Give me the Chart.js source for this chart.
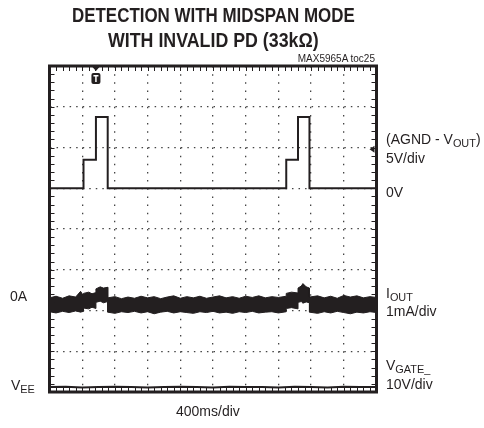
<!DOCTYPE html>
<html>
<head>
<meta charset="utf-8">
<script src="https://cdn.jsdelivr.net/npm/chart.js@4.4.0/dist/chart.umd.min.js"></script>
<style>
  html, body { margin: 0; padding: 0; background: #fff; }
  #wrap { position: relative; width: 484px; height: 428px; overflow: hidden; }
  #chart { position: absolute; left: 0; top: 0; }
  .t { position: absolute; white-space: nowrap; color: #231f20;
       font-family: "Liberation Sans Narrow", "Liberation Sans", Arial, sans-serif;
       font-size: 14px; line-height: 14px; }
  .ttl { font-weight: bold; font-size: 21px; line-height: 21px; transform-origin: left top; }
  .t sub { font-size: 78%; vertical-align: -0.25em; line-height: 0; }
</style>
</head>
<body>
<div id="wrap">
  <canvas id="chart" width="484" height="428"></canvas>
  <div class="t ttl" data-cx="213.5" data-w="283" style="top:4px">DETECTION WITH MIDSPAN MODE</div>
  <div class="t ttl" data-cx="213.5" data-w="211" style="top:29px">WITH INVALID PD (33kΩ)</div>
  <div class="t" style="top:54px; right:109px; font-size:10px; line-height:10px">MAX5965A toc25</div>
  <div class="t" style="left:386px; top:132px">(AGND - V<sub>OUT</sub>)</div>
  <div class="t" style="left:386px; top:151px">5V/div</div>
  <div class="t" style="left:386px; top:185px">0V</div>
  <div class="t" style="left:386px; top:286px">I<sub>OUT</sub></div>
  <div class="t" style="left:386px; top:304px">1mA/div</div>
  <div class="t" style="left:386px; top:358px">V<sub>GATE_</sub></div>
  <div class="t" style="left:386px; top:377px">10V/div</div>
  <div class="t" style="left:10px; top:289px">0A</div>
  <div class="t" style="left:11px; top:378px">V<sub>EE</sub></div>
  <div class="t" style="left:176px; top:404px">400ms/div</div>
</div>
<script>
// scope screen: 10 x 8 divisions, values in divisions from the bottom
const xDivs = 10;
const yDivs = 8;
const trigX = 1.42;
const trigLevel = 5.96;

// (AGND - VOUT), 5V/div
const voltX = [0, 1.04, 1.04, 1.42, 1.42, 1.78, 1.78, 7.24, 7.24, 7.6, 7.6, 7.95, 7.95, 10];
const voltY = [5, 5, 5.7, 5.7, 6.75, 6.75, 5, 5, 5.7, 5.7, 6.75, 6.75, 5, 5];

// IOUT noise band, upper and lower edge
const curX = [0, 0.2, 0.4, 0.6, 0.8, 0.95,
  1.04, 1.04, 1.2, 1.3, 1.42, 1.42, 1.55, 1.65, 1.78, 1.78,
  2.0, 2.2, 2.4, 2.6, 2.8, 3.0, 3.2, 3.4, 3.6, 3.8, 4.0, 4.2, 4.4,
  4.6, 4.8, 5.0, 5.2, 5.4, 5.6, 5.8, 6.0, 6.2, 6.4, 6.6, 6.8, 7.0,
  7.24, 7.24, 7.4, 7.6, 7.6, 7.7, 7.75, 7.85, 7.95, 7.95,
  8.2, 8.4, 8.6, 8.8, 9.0, 9.2, 9.4, 9.6, 9.8, 10];
const curHi = [2.31, 2.35, 2.30, 2.36, 2.33, 2.47,
  2.36, 2.42, 2.45, 2.41, 2.44, 2.53, 2.58, 2.55, 2.57, 2.31,
  2.34, 2.29, 2.33, 2.30, 2.35, 2.31, 2.34, 2.29, 2.33, 2.36, 2.30, 2.34, 2.31,
  2.35, 2.30, 2.33, 2.36, 2.31, 2.34, 2.30, 2.35, 2.32, 2.36, 2.31, 2.34, 2.32,
  2.35, 2.42, 2.45, 2.43, 2.55, 2.60, 2.66, 2.58, 2.55, 2.33,
  2.36, 2.31, 2.35, 2.30, 2.37, 2.33, 2.36, 2.31, 2.34, 2.32];
const curLo = [1.97, 1.94, 1.98, 1.95, 1.99, 1.96,
  1.98, 2.06, 2.04, 2.08, 2.05, 2.20, 2.23, 2.19, 2.22, 1.96,
  1.93, 1.97, 1.95, 1.98, 1.94, 1.97, 1.92, 1.96, 1.98, 1.94, 1.97, 1.95, 1.93,
  1.97, 1.95, 1.98, 1.94, 1.96, 1.93, 1.97, 1.95, 1.98, 1.94, 1.96, 1.97, 1.94,
  1.97, 2.05, 2.07, 2.04, 2.20, 2.22, 2.18, 2.21, 2.19, 1.96,
  1.93, 1.97, 1.94, 1.98, 1.95, 1.92, 1.96, 1.94, 1.97, 1.95];

// VGATE_, 10V/div
const gateX = [0, 0.5, 1, 1.5, 2, 2.5, 3, 3.5, 4, 4.5, 5, 5.5, 6, 6.5, 7, 7.5, 8, 8.5, 9, 9.5, 10];
const gateY = [0.12, 0.13, 0.11, 0.12, 0.13, 0.12, 0.11, 0.12, 0.13, 0.12, 0.11,
  0.13, 0.12, 0.12, 0.11, 0.13, 0.12, 0.11, 0.13, 0.12, 0.12];

function pts(xs, ys) { return xs.map((v, i) => ({x: v, y: ys[i]})); }

const ink = "#231f20";

const scopeFrame = {
  id: "scopeFrame",
  afterDatasetsDraw(chart) {
    const {ctx, chartArea: a, scales: {x, y}} = chart;
    ctx.save();
    ctx.strokeStyle = ink;
    ctx.fillStyle = ink;
    ctx.lineWidth = 1;
    ctx.beginPath();
    for (let i = 0; i <= xDivs * 5; i++) {
      const px = Math.round(x.getPixelForValue(i / 5)) + 0.5;
      ctx.moveTo(px, a.top); ctx.lineTo(px, a.top + 5);
      ctx.moveTo(px, a.bottom); ctx.lineTo(px, a.bottom - 5);
    }
    for (let i = 0; i <= yDivs * 5; i++) {
      const py = Math.round(y.getPixelForValue(i / 5)) + 0.5;
      ctx.moveTo(a.left, py); ctx.lineTo(a.left + 5, py);
      ctx.moveTo(a.right, py); ctx.lineTo(a.right - 5, py);
    }
    ctx.stroke();
    ctx.lineWidth = 3;
    ctx.strokeRect(a.left, a.top, a.right - a.left, a.bottom - a.top);

    // trigger position marker
    const tx = x.getPixelForValue(trigX);
    ctx.beginPath();
    ctx.moveTo(tx - 3.5, a.top + 1); ctx.lineTo(tx + 3.5, a.top + 1); ctx.lineTo(tx, a.top + 5);
    ctx.fill();
    ctx.beginPath();
    ctx.roundRect(tx - 4.5, a.top + 7, 9, 11, 2);
    ctx.fill();
    ctx.fillStyle = "#fff";
    ctx.fillRect(tx - 2.5, a.top + 9, 5, 1.5);
    ctx.fillRect(tx - 0.75, a.top + 9, 1.5, 7);

    // trigger level marker
    const ly = y.getPixelForValue(trigLevel);
    ctx.fillStyle = ink;
    ctx.beginPath();
    ctx.moveTo(a.right - 2, ly - 3.5); ctx.lineTo(a.right - 2, ly + 3.5); ctx.lineTo(a.right - 7, ly);
    ctx.fill();
    ctx.restore();
  }
};

new Chart(document.getElementById("chart"), {
  type: "line",
  data: {
    datasets: [
      { data: pts(voltX, voltY), borderColor: ink, borderWidth: 2, fill: false },
      { data: pts(curX, curHi), borderColor: ink, borderWidth: 1, backgroundColor: ink, fill: "+1" },
      { data: pts(curX, curLo), borderColor: ink, borderWidth: 1, fill: false },
      { data: pts(gateX, gateY), borderColor: ink, borderWidth: 2, fill: false }
    ]
  },
  options: {
    responsive: false,
    animation: false,
    devicePixelRatio: 1,
    layout: { padding: { left: 49.5, right: 107.5, top: 66, bottom: 36 } },
    elements: { point: { radius: 0 }, line: { tension: 0 } },
    plugins: { legend: { display: false }, tooltip: { enabled: false } },
    scales: {
      x: {
        type: "linear", min: 0, max: xDivs,
        ticks: { display: false, stepSize: 1 },
        grid: { color: "#444", lineWidth: 1.3, drawTicks: false },
        border: { display: false, dash: [1.5, 6.65] }
      },
      y: {
        type: "linear", min: 0, max: yDivs,
        ticks: { display: false, stepSize: 1 },
        grid: { color: "#444", lineWidth: 1.3, drawTicks: false },
        border: { display: false, dash: [1.5, 5.04] }
      }
    }
  },
  plugins: [scopeFrame]
});

// squeeze the title lines to the condensed width of the original
document.querySelectorAll(".ttl").forEach(el => {
  const w = el.offsetWidth;
  const s = Number(el.dataset.w) / w;
  el.style.left = (Number(el.dataset.cx) - Number(el.dataset.w) / 2) + "px";
  el.style.transform = "scaleX(" + s + ")";
});
</script>
</body>
</html>
